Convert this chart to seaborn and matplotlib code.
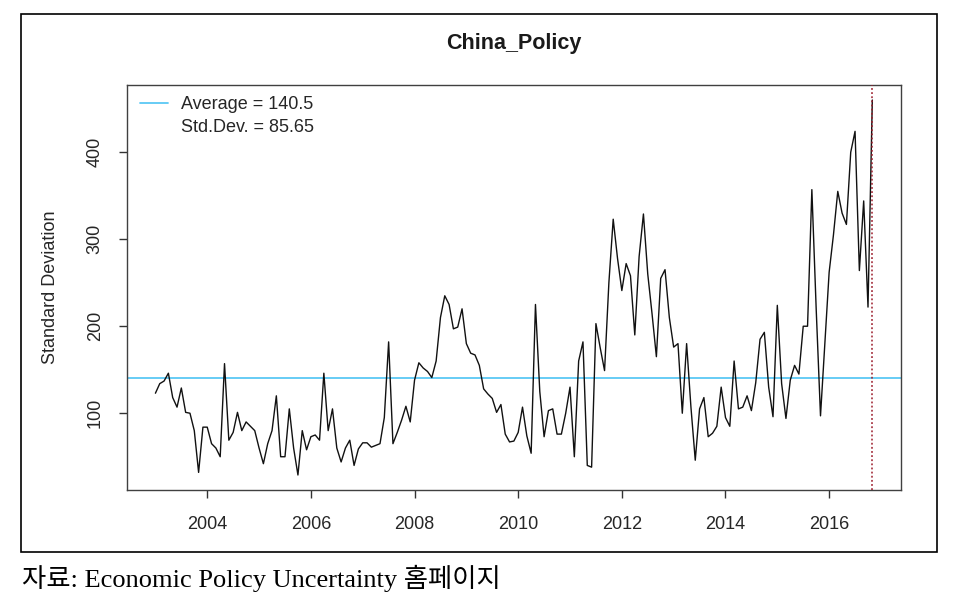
import numpy as np
import pandas as pd
import matplotlib
matplotlib.use("Agg")
import matplotlib.pyplot as plt
import seaborn as sns
from matplotlib.lines import Line2D
from matplotlib.patches import Rectangle

# ---- data (monthly) ----
start_year = 2003
v2003 = [123, 134, 137, 146, 118, 107, 129, 101, 100, 80, 32, 84]
v2004 = [84, 65, 60, 50, 157, 69, 78, 101, 80, 90, 85, 80]
v2005 = [60, 42, 65, 80, 120, 50, 50, 105, 60, 29, 80, 58]
v2006 = [73, 75, 69, 146, 80, 105, 60, 44, 60, 69, 40, 59]
v2007 = [66, 66, 61, 63, 65, 95, 182, 65, 78, 92, 108, 90]
v2008 = [138, 158, 152, 148, 141, 160, 210, 235, 225, 197, 199, 220]
v2009 = [180, 169, 167, 155, 128, 122, 117, 101, 110, 76, 67, 68]
v2010 = [78, 107, 74, 54, 225, 125, 73, 103, 105, 76, 76, 100]
v2011 = [130, 50, 160, 182, 40, 38, 203, 175, 149, 250, 323, 278]
v2012 = [241, 272, 258, 190, 280, 329, 260, 214, 165, 255, 265, 210]
v2013 = [176, 180, 100, 180, 107, 46, 105, 118, 73, 77, 85, 130]
v2014 = [95, 85, 160, 105, 107, 120, 103, 135, 185, 193, 130, 96]
v2015 = [224, 134, 94, 138, 155, 145, 200, 200, 357, 220, 97, 180]
v2016 = [262, 305, 355, 330, 317, 400, 424, 264, 344, 222, 460]

average = 140.5
std_dev = 85.65
title = "China_Policy"
ylabel = "Standard Deviation"
x_ticks = [2004, 2006, 2008, 2010, 2012, 2014, 2016]
y_ticks = [100, 200, 300, 400]
caption = "자료: Economic Policy Uncertainty 홈페이지"

values = (v2003 + v2004 + v2005 + v2006 + v2007 + v2008 + v2009 + v2010
          + v2011 + v2012 + v2013 + v2014 + v2015 + v2016)
dates = start_year + np.arange(len(values)) / 12.0
df = pd.DataFrame({"date": dates, "value": values})

# ---- style ----
sns.set_style("white")
plt.rcParams["font.family"] = ["Liberation Sans", "DejaVu Sans"]

fig = plt.figure(figsize=(9.58, 6.09), dpi=100)
ax = fig.add_axes([0.1323, 0.1954, 0.8082, 0.665])

sns.lineplot(data=df, x="date", y="value", color="#111111", lw=1.0, ax=ax)

ax.axhline(average, color="#5BC8F5", lw=1.3, zorder=1)
ax.axvline(dates[-1], color="#9B1B2A", lw=1.1, ls=(0, (1.2, 1.5)), zorder=3)

# R-like 4% axis expansion
xr = dates[-1] - dates[0]
ax.set_xlim(dates[0] - 0.04 * xr, dates[-1] + 0.04 * xr)
yr = max(values) - min(values)
ax.set_ylim(min(values) - 0.04 * yr, max(values) + 0.04 * yr)

ax.set_xticks(x_ticks)
ax.set_yticks(y_ticks)
ax.set_xlabel("")
ax.set_ylabel(ylabel, fontsize=13, color="#262626")
ax.yaxis.set_label_coords(-0.087, 0.5)

ax.tick_params(axis="both", direction="out", bottom=True, left=True,
               length=5.5, width=1, color="#333333", labelsize=13,
               labelcolor="#262626", pad=11)
ax.tick_params(axis="x", pad=13)
for lab in ax.get_yticklabels():
    lab.set_rotation(90)
    lab.set_va("center")

for s in ax.spines.values():
    s.set_visible(True)
    s.set_color("#404040")
    s.set_linewidth(1.0)

ax.set_title(title, fontsize=15.5, fontweight="bold", color="#1a1a1a",
             y=1.1037, va="center", pad=0)

handles = [Line2D([], [], color="#5BC8F5", lw=1.3), Line2D([], [], color="none")]
labels = [f"Average = {average}", f"Std.Dev. = {std_dev}"]
ax.legend(handles, labels, loc="upper left", bbox_to_anchor=(0.017, 0.972),
          frameon=False, borderpad=0, borderaxespad=0, handlelength=1.55,
          handletextpad=0.7, labelspacing=0.3, fontsize=13,
          labelcolor="#262626")

fig.add_artist(Rectangle((0.0219, 0.0936), 0.9561, 0.8834,
                         transform=fig.transFigure, fill=False,
                         ec="black", lw=1.2))

fig.text(0.023, 0.051, caption, family=["Liberation Serif", "Noto Sans CJK KR"],
         fontsize=19, va="center", ha="left", color="black")

fig.savefig("out.png", dpi=100)
